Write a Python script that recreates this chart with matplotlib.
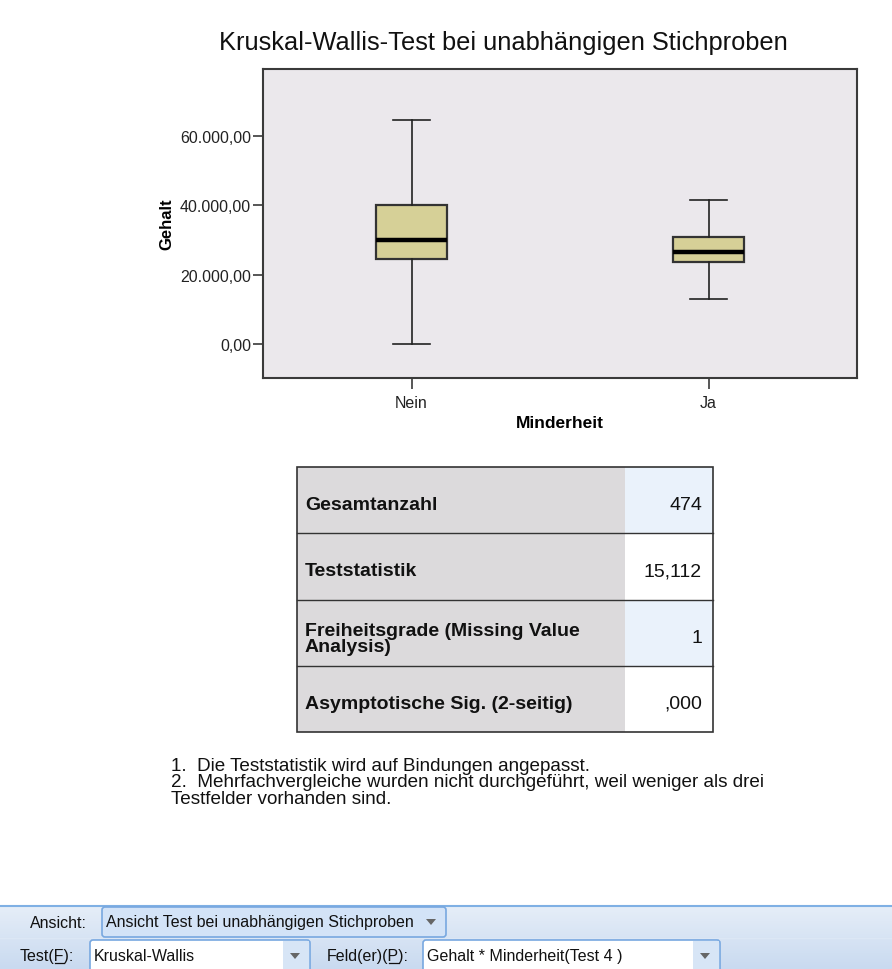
import numpy as np
import matplotlib
matplotlib.use("Agg")
import matplotlib.pyplot as plt
from matplotlib.patches import Rectangle, FancyBboxPatch, Polygon
from matplotlib.colors import LinearSegmentedColormap

# Data
groups = ["Nein", "Ja"]
whis_low = [0, 13000]
q1 = [24470, 23600]
medians = [30050, 26580]
q3 = [40000, 31000]
whis_high = [64700, 41500]
y_ticks = [0, 20000, 40000, 60000]
y_tick_labels = ["0,00", "20.000,00", "40.000,00", "60.000,00"]

row_labels = ["Gesamtanzahl", "Teststatistik",
              "Freiheitsgrade (Missing Value\nAnalysis)",
              "Asymptotische Sig. (2-seitig)"]
row_values = ["474", "15,112", "1", ",000"]
footnotes = ["1.  Die Teststatistik wird auf Bindungen angepasst.",
             "2.  Mehrfachvergleiche wurden nicht durchgeführt, weil weniger als drei",
             "Testfelder vorhanden sind."]

W, H = 892, 970
plt.rcParams["font.family"] = ["Liberation Sans", "DejaVu Sans"]

fig = plt.figure(figsize=(W / 100, H / 100), dpi=100)
fig.patch.set_facecolor("white")

# ---- box plot ----
ax_l, ax_r, ax_t, ax_b = 263, 857, 70, 379
ax = fig.add_axes([ax_l / W, 1 - ax_b / H, (ax_r - ax_l) / W, (ax_b - ax_t) / H])
ax.set_facecolor("#ebe8ec")

stats = []
for i, g in enumerate(groups):
    stats.append(dict(label=g, whislo=whis_low[i], q1=q1[i], med=medians[i],
                      q3=q3[i], whishi=whis_high[i], fliers=[]))
ax.bxp(stats, positions=[1, 2], widths=0.24, patch_artist=True, capwidths=0.122,
       boxprops=dict(facecolor="#d6d097", edgecolor="#333333", linewidth=1.6),
       medianprops=dict(color="black", linewidth=3.2),
       whiskerprops=dict(color="#222222", linewidth=1.2),
       capprops=dict(color="#222222", linewidth=1.2))

ax.set_xlim(0.5, 2.5)
ax.set_ylim(-9850, 79400)
ax.set_yticks(y_ticks)
ax.set_yticklabels(y_tick_labels)
for s in ax.spines.values():
    s.set_color("#3a3a3a")
    s.set_linewidth(1.5)
ax.tick_params(axis="y", length=7.5, width=1.2, color="#3a3a3a", labelsize=11.5,
               pad=1, labelcolor="#222222")
ax.tick_params(axis="x", length=8, width=1.2, color="#3a3a3a", labelsize=11.5,
               pad=4, labelcolor="#222222")

ax.set_ylabel("Gehalt", fontsize=12, fontweight="bold")
ax.yaxis.set_label_coords((167 - ax_l) / (ax_r - ax_l), 0.5)
ax.yaxis.label.set_va("center")
ax.set_xlabel("Minderheit", fontsize=12.5, fontweight="bold")
ax.xaxis.set_label_coords(0.5, (ax_b - 424) / (ax_b - ax_t))
ax.xaxis.label.set_va("center")

fig.text(503 / W, 1 - 43 / H, "Kruskal-Wallis-Test bei unabhängigen Stichproben",
         ha="center", va="center", fontsize=18.3, color="#111111")

# ---- pixel canvas for table, notes, toolbar ----
cv = fig.add_axes([0, 0, 1, 1], zorder=-1)
cv.set_xlim(0, W)
cv.set_ylim(H, 0)
cv.axis("off")

tb_l, tb_r, tb_split, tb_t, tb_b = 297, 713, 625, 468, 733
row_h = (tb_b - tb_t) / len(row_labels)
val_bg = ["#eaf2fb", "white", "#eaf2fb", "white"]
for i, (lab, val) in enumerate(zip(row_labels, row_values)):
    y0 = tb_t + i * row_h
    yc = y0 + row_h / 2
    cv.add_patch(Rectangle((tb_l, y0), tb_split - tb_l, row_h, facecolor="#dcdadc",
                           edgecolor="none"))
    cv.add_patch(Rectangle((tb_split, y0), tb_r - tb_split, row_h, facecolor=val_bg[i],
                           edgecolor="none"))
    nl = lab.count("\n")
    cv.text(tb_l + 8, yc + 9 + nl * 9, lab, ha="left", va="baseline", fontsize=14,
            fontweight="bold", color="#111111", linespacing=0.86)
    cv.text(tb_r - 11, yc + 9, val, ha="right", va="baseline", fontsize=14,
            color="#111111")
    if i > 0:
        cv.plot([tb_l, tb_r], [y0, y0], color="#333333", lw=1.0)
cv.add_patch(Rectangle((tb_l, tb_t), tb_r - tb_l, tb_b - tb_t, facecolor="none",
                       edgecolor="#333333", lw=1.2))

cv.text(171, 758, "\n".join(footnotes), ha="left", va="top", fontsize=13.6,
        color="#111111", linespacing=0.96)

# ---- toolbar ----
grad = np.linspace(0, 1, 64).reshape(-1, 1)
cv.imshow(grad, extent=(0, W, 970, 906),
          cmap=LinearSegmentedColormap.from_list("tb", ["#e6eef8", "#c9daf0"]),
          aspect="auto", zorder=0)
cv.plot([0, W], [906.5, 906.5], color="#7fb0e4", lw=1.5, zorder=1)
cv.plot([0, W], [939, 939], color="#dce7f5", lw=1, zorder=1)


def combo(x0, x1, y0, y1, fill, text, arrow_bg=None):
    cv.add_patch(FancyBboxPatch((x0, y0), x1 - x0, y1 - y0,
                                boxstyle="round,pad=0,rounding_size=3",
                                facecolor=fill, edgecolor="#78a8e0", lw=1.2, zorder=2))
    if arrow_bg is not None:
        cv.add_patch(Rectangle((x1 - 27, y0 + 1), 26, y1 - y0 - 1, facecolor=arrow_bg,
                               edgecolor="none", zorder=2))
    cv.text(x0 + 4, (y0 + y1) / 2, text, ha="left", va="center", fontsize=11.5,
            color="#111111", zorder=3)
    axx = x1 - 15
    ay = (y0 + y1) / 2
    cv.add_patch(Polygon([[axx - 5, ay - 3], [axx + 5, ay - 3], [axx, ay + 3]],
                         closed=True, facecolor="#666666", edgecolor="none", zorder=3))


renderer = fig.canvas.get_renderer()


def label_ul(x, y, text, ul_index):
    # label with one underlined letter (keyboard shortcut)
    t = cv.text(x, y, text, ha="left", va="baseline", fontsize=11.5, color="#111111",
                zorder=3)
    pre = cv.text(x, y, text[:ul_index], fontsize=11.5, alpha=0)
    chr_ = cv.text(x, y, text[:ul_index + 1], fontsize=11.5, alpha=0)
    w0 = pre.get_window_extent(renderer).width if ul_index else 0
    w1 = chr_.get_window_extent(renderer).width
    pre.remove()
    chr_.remove()
    cv.plot([x + w0 + 0.5, x + w1 - 0.5], [y + 2.5, y + 2.5], color="#111111", lw=0.9,
            zorder=3)
    return t


cv.text(30, 928.5, "Ansicht:", ha="left", va="baseline", fontsize=11.5,
        color="#111111", zorder=3)
combo(102, 446, 908, 938, "#d3e3f7", "Ansicht Test bei unabhängigen Stichproben")
label_ul(20, 961.5, "Test(F):", 5)
combo(90, 310, 941, 973, "white", "Kruskal-Wallis", arrow_bg="#d7e5f6")
label_ul(327, 961.5, "Feld(er)(P):", 9)
combo(423, 720, 941, 973, "white", "Gehalt * Minderheit(Test 4 )", arrow_bg="#d7e5f6")

fig.savefig("out.png", dpi=100)
